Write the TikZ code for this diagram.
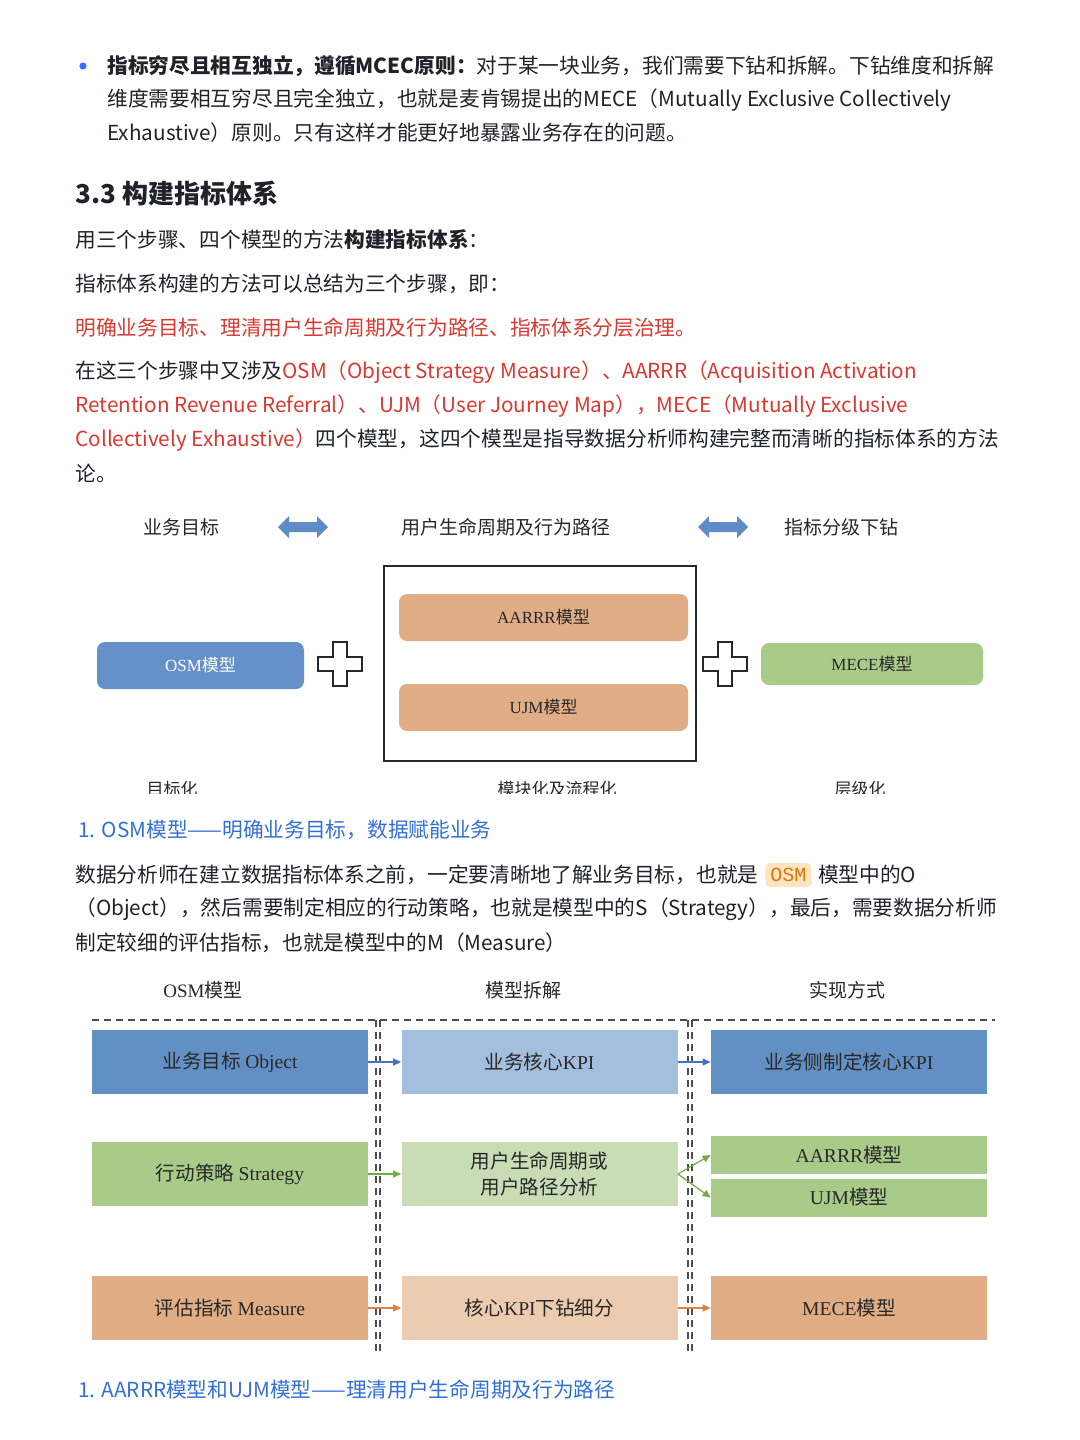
\documentclass[tikz,border=0pt]{standalone}
\usepackage{fontspec}
\setmainfont{Noto Sans CJK SC}
\newfontfamily\tnr{Liberation Serif}
\newfontfamily\mono{Liberation Mono}
\usetikzlibrary{arrows.meta, positioning}
\definecolor{ink}{RGB}{31,35,41}
\definecolor{dotblue}{RGB}{51,112,255}
\definecolor{headblue}{RGB}{51,112,214}
\definecolor{redtext}{RGB}{216,57,49}
\definecolor{codebg}{RGB}{253,229,196}
\definecolor{codefg}{RGB}{222,120,2}
\definecolor{figink}{RGB}{40,40,40}
\definecolor{blockblue}{RGB}{95,139,199}
\definecolor{pillblue}{RGB}{101,145,200}
\definecolor{pillorange}{RGB}{224,173,135}
\definecolor{pillgreen}{RGB}{169,203,138}
\definecolor{darkblue}{RGB}{99,144,196}
\definecolor{lightblue}{RGB}{164,190,221}
\definecolor{darkgreen}{RGB}{169,203,138}
\definecolor{lightgreen}{RGB}{200,221,181}
\definecolor{darkorange}{RGB}{225,173,132}
\definecolor{lightorange}{RGB}{236,204,176}
\definecolor{arrblue}{RGB}{68,114,196}
\definecolor{arrgreen}{RGB}{112,173,71}
\definecolor{arrorange}{RGB}{220,130,70}
\tikzstyle{textline} = [anchor=west, inner sep=0pt, text=ink, font=\fontsize{10.35}{12}\selectfont]
\tikzstyle{bluehead} = [textline, text=headblue]
\tikzstyle{figlabel} = [inner sep=0pt, text=figink, font=\fontsize{9.5}{11}\selectfont]
\tikzstyle{pill} = [rectangle, rounded corners=4pt, minimum width=144.5pt, minimum height=23.5pt, inner sep=0pt, text=figink, font=\fontsize{8.5}{10}\selectfont]
\tikzstyle{block} = [rectangle, minimum width=138pt, minimum height=32pt, inner sep=0pt, text=figink, align=center, font=\fontsize{9.8}{13}\selectfont]
\tikzstyle{halfblock} = [block, minimum height=19pt]
\tikzstyle{plusline} = [draw=figink, line width=0.8pt, fill=white]
\tikzstyle{dashline} = [draw=black!70, line width=0.9pt, dash pattern=on 3.5pt off 2.5pt]
\tikzstyle{arrow} = [line width=0.6pt, -{Triangle[length=4pt,width=3.5pt]}]

\begin{document}
\begin{tikzpicture}[x=0.5pt, y=-0.5pt]
\useasboundingbox (0,0) rectangle (1080,1440);
\fill[white] (0,0) rectangle (1080,1440);

% intro text
\fill[dotblue] (83,66) circle [radius=1.8pt];
\node (introA) [textline] at (107,66) {{\bfseries 指标穷尽且相互独立，遵循MCEC原则：}对于某一块业务，我们需要下钻和拆解。下钻维度和拆解};
\node (introB) [textline] at (107,100) {维度需要相互穷尽且完全独立，也就是麦肯锡提出的MECE（Mutually Exclusive Collectively};
\node (introC) [textline] at (107,133) {Exhaustive）原则。只有这样才能更好地暴露业务存在的问题。};

\node (section) [textline, font=\fontsize{13}{15}\selectfont\bfseries] at (75,193) {3.3 构建指标体系};
\node (paraA) [textline] at (75,240) {用三个步骤、四个模型的方法{\bfseries 构建指标体系}：};
\node (paraB) [textline] at (75,284) {指标体系构建的方法可以总结为三个步骤，即：};
\node (paraC) [textline, text=redtext] at (75,328) {明确业务目标、理清用户生命周期及行为路径、指标体系分层治理。};
\node (paraD) [textline] at (75,372) {在这三个步骤中又涉及{\color{redtext}OSM（Object Strategy Measure）、AARRR（Acquisition Activation}};
\node (paraE) [textline, text=redtext] at (75,406) {Retention Revenue Referral）、UJM（User Journey Map），MECE（Mutually Exclusive};
\node (paraF) [textline] at (75,440) {{\color{redtext}Collectively Exhaustive）}四个模型，这四个模型是指导数据分析师构建完整而清晰的指标体系的方法};
\node (paraG) [textline] at (75,473) {论。};

% figure 1: steps and models
\node (goal) [figlabel] at (181,527) {业务目标};
\node (path) [figlabel] at (506,527) {用户生命周期及行为路径};
\node (drill) [figlabel] at (841,527) {指标分级下钻};
\foreach \ax in {303,723}
  \fill[blockblue, shift={(\ax,527)}] (-25,0) -- (-14,-11) -- (-14,-5) -- (14,-5) -- (14,-11) -- (25,0) -- (14,11) -- (14,5) -- (-14,5) -- (-14,11) -- cycle;

\draw[figink, line width=0.8pt] (384,566) rectangle (696,761);
\node (osm) [pill, fill=pillblue, text=white, minimum width=103.5pt] at (200.5,665.5) {{\tnr OSM}模型};
\node (aarrr) [pill, fill=pillorange] at (543.5,617.5) {{\tnr AARRR}模型};
\node (ujm) [pill, fill=pillorange] at (543.5,707.5) {{\tnr UJM}模型};
\node (mece) [pill, fill=pillgreen, minimum width=111pt, minimum height=21pt] at (872,664) {{\tnr MECE}模型};
\foreach \cx in {340,725}
  \draw[plusline, shift={(\cx,664)}] (-7,-22) -- (7,-22) -- (7,-7) -- (22,-7) -- (22,7) -- (7,7) -- (7,22) -- (-7,22) -- (-7,7) -- (-22,7) -- (-22,-7) -- (-7,-7) -- cycle;

\begin{scope}
\clip (0,770) rectangle (1080,793);
\node (aimA) [figlabel, font=\fontsize{8.5}{10}\selectfont] at (172,789) {目标化};
\node (aimB) [figlabel, font=\fontsize{8.5}{10}\selectfont] at (557,789) {模块化及流程化};
\node (aimC) [figlabel, font=\fontsize{8.5}{10}\selectfont] at (860,789) {层级化};
\end{scope}

% OSM section
\node (osmHead) [bluehead] at (78,830) {1. OSM模型——明确业务目标，数据赋能业务};
\node (osmA) [textline] at (75,875) {数据分析师在建立数据指标体系之前，一定要清晰地了解业务目标，也就是};
\node (osmCode) [right=3pt of osmA, fill=codebg, rounded corners=2pt, inner sep=2.5pt, text=codefg, font=\fontsize{10}{12}\mono] {OSM};
\node (osmB) [textline, right=3pt of osmCode] {模型中的O};
\node (osmC) [textline] at (75,909) {（Object），然后需要制定相应的行动策略，也就是模型中的S（Strategy），最后，需要数据分析师};
\node (osmD) [textline] at (75,943) {制定较细的评估指标，也就是模型中的M（Measure）};

% figure 2: OSM breakdown
\node (colA) [figlabel] at (203,990) {{\tnr OSM}模型};
\node (colB) [figlabel] at (523,990) {模型拆解};
\node (colC) [figlabel] at (847,990) {实现方式};
\draw[dashline] (92,1020) -- (995,1020);
\foreach \vx in {376,380,688,692}
  \draw[dashline] (\vx,1020) -- (\vx,1352);

\node (object) [block, fill=darkblue] at (230,1062) {业务目标 {\tnr Object}};
\node (kpi) [block, fill=lightblue] at (539.5,1062) {业务核心{\tnr KPI}};
\node (kpiSide) [block, fill=darkblue] at (849,1062) {业务侧制定核心{\tnr KPI}};
\node (strategy) [block, fill=darkgreen] at (230,1174) {行动策略 {\tnr Strategy}};
\node (life) [block, fill=lightgreen] at (539.5,1174) {用户生命周期或\\用户路径分析};
\node (aarrrB) [halfblock, fill=darkgreen] at (849,1155) {{\tnr AARRR}模型};
\node (ujmB) [halfblock, fill=darkgreen] at (849,1197.5) {{\tnr UJM}模型};
\node (measure) [block, fill=darkorange] at (230,1308) {评估指标 {\tnr Measure}};
\node (split) [block, fill=lightorange] at (539.5,1308) {核心{\tnr KPI}下钻细分};
\node (meceB) [block, fill=darkorange] at (849,1308) {{\tnr MECE}模型};

\draw[arrow, arrblue] (object) -- (kpi);
\draw[arrow, arrblue] (kpi) -- (kpiSide);
\draw[arrow, arrgreen] (strategy) -- (life);
\draw[arrow, arrgreen] (life.east) -- (aarrrB.west);
\draw[arrow, arrgreen] (life.east) -- (ujmB.west);
\draw[arrow, arrorange] (measure) -- (split);
\draw[arrow, arrorange] (split) -- (meceB);

\node (aarrrHead) [bluehead] at (78,1390) {1. AARRR模型和UJM模型——理清用户生命周期及行为路径};
\end{tikzpicture}
\end{document}
